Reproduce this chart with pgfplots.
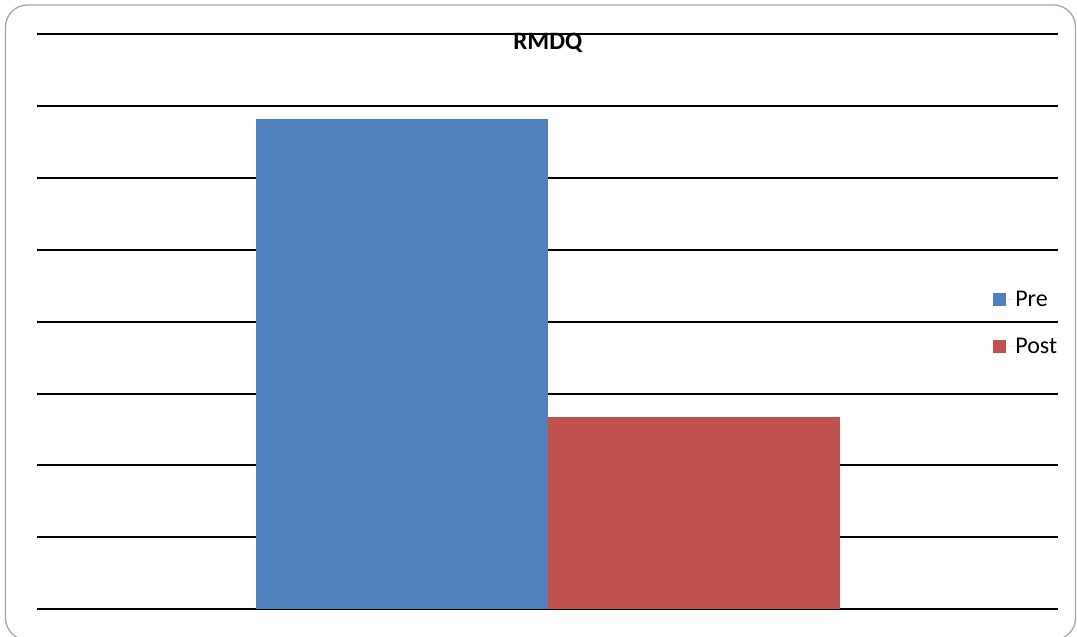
\documentclass[border=0pt]{standalone}
\usepackage{fontspec}
\setmainfont{Carlito}
\usepackage{pgfplots}
\pgfplotsset{compat=1.18}
\definecolor{preblue}{HTML}{4F81BD}
\definecolor{postred}{HTML}{C0504D}
\begin{document}
\begin{tikzpicture}[x=1pt,y=1pt]
% the axis box has its lower left corner at the origin
\useasboundingbox (-37,-28) rectangle (1040,609);
% rounded frame around the chart
\draw[gray!70, line width=1.3pt, rounded corners=22pt] (-31.5,-31) rectangle (1038.5,604);
\begin{axis}[
  scale only axis, width=1021.5pt, height=574.5pt,
  xmin=-1, xmax=1, ymin=0, ymax=8,
  ybar=0pt, bar width=292pt,
  axis line style={draw=none},
  xtick=\empty, ytick={0,...,8}, yticklabels={}, major tick length=0pt,
  ymajorgrids, grid style={black, line width=2pt},
  legend style={draw=none, fill=none, at={(0.936,0.557)}, anchor=north west,
    inner xsep=0pt, inner ysep=0pt, cells={anchor=west},
    font=\fontsize{24}{29}\selectfont, row sep=26pt},
  legend image code/.code={\fill[#1] (0pt,-6.5pt) rectangle (12.5pt,6.5pt);
    \path (0pt,0pt) -- (20pt,0pt);},
]
\addplot[fill=preblue, draw=none] coordinates {(0,6.82)};
\addplot[fill=postred, draw=none] coordinates {(0,2.67)};
\legend{Pre,Post}
\end{axis}
\node[font=\bfseries\fontsize{25}{30}\selectfont, anchor=base, inner sep=0pt] at (510.75,559) {RMDQ};
\end{tikzpicture}
\end{document}
